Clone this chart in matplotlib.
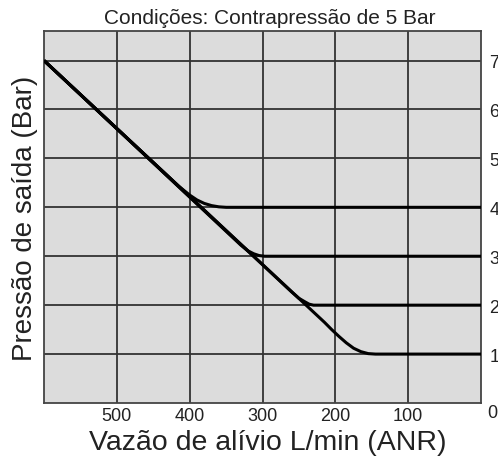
import matplotlib
matplotlib.use("Agg")
import matplotlib.pyplot as plt

plt.rcParams['font.family'] = ['Liberation Sans', 'DejaVu Sans']

# Data (flow L/min ANR, outlet pressure bar)
flow_1 = [600, 215, 205, 195, 185, 175, 165, 155, 145, 0]
pres_1 = [7, 1.65, 1.50, 1.36, 1.23, 1.12, 1.05, 1.01, 1.0, 1.0]
flow_2 = [600, 260, 250, 242, 236, 230, 0]
pres_2 = [7, 2.27, 2.14, 2.07, 2.02, 2.0, 2.0]
flow_3 = [600, 330, 320, 312, 305, 297, 0]
pres_3 = [7, 3.23, 3.11, 3.05, 3.015, 3.0, 3.0]
flow_4 = [600, 415, 400, 390, 380, 370, 360, 350, 0]
pres_4 = [7, 4.43, 4.25, 4.15, 4.08, 4.035, 4.01, 4.0, 4.0]

x_ticks = [500, 400, 300, 200, 100]
x_ticklabels = ["500", "400", "300", "200", "100"]
y_ticks = [1, 2, 3, 4, 5, 6, 7]
y_ticklabels = ["1", "2", "3", "4", "5", "6", "7"]
corner_label = "0"

title = "Condições: Contrapressão de 5 Bar"
xlabel = "Vazão de alívio L/min (ANR)"
ylabel = "Pressão de saída (Bar)"

fig = plt.figure(figsize=(4.98, 4.60), dpi=100)
ax = fig.add_axes([0.0884, 0.1217, 0.8776, 0.8083])
ax.set_facecolor("#dcdcdc")

for fx, py in [(flow_1, pres_1), (flow_2, pres_2), (flow_3, pres_3), (flow_4, pres_4)]:
    ax.plot(fx, py, color="black", lw=2.2, solid_capstyle="butt", zorder=3)

ax.set_xlim(600, 0)
ax.set_ylim(0, 7.6)
ax.set_xticks(x_ticks)
ax.set_xticklabels(x_ticklabels)
ax.set_yticks(y_ticks)
ax.set_yticklabels(y_ticklabels)
ax.yaxis.tick_right()
ax.tick_params(axis="both", length=0, labelsize=13, colors="#222222")
ax.tick_params(axis="x", pad=3)
ax.tick_params(axis="y", pad=6)
ax.grid(True, color="#333333", lw=1.3, zorder=1)
for s in ax.spines.values():
    s.set_color("#444444")
    s.set_linewidth(1.3)

fig.text(487 / 498, 1 - 414 / 460, corner_label, ha="left", va="center", fontsize=13, color="#222222")

fig.text(270 / 498, 1 - 18 / 460, title, ha="center", va="center", fontsize=15, color="#222222")
fig.text(268 / 498, 1 - 443 / 460, xlabel, ha="center", va="center", fontsize=20.5, color="#222222")
fig.text(25 / 498, 1 - 218 / 460, ylabel, ha="center", va="center", rotation=90, fontsize=20, color="#222222")

fig.savefig("out.png", dpi=100)
